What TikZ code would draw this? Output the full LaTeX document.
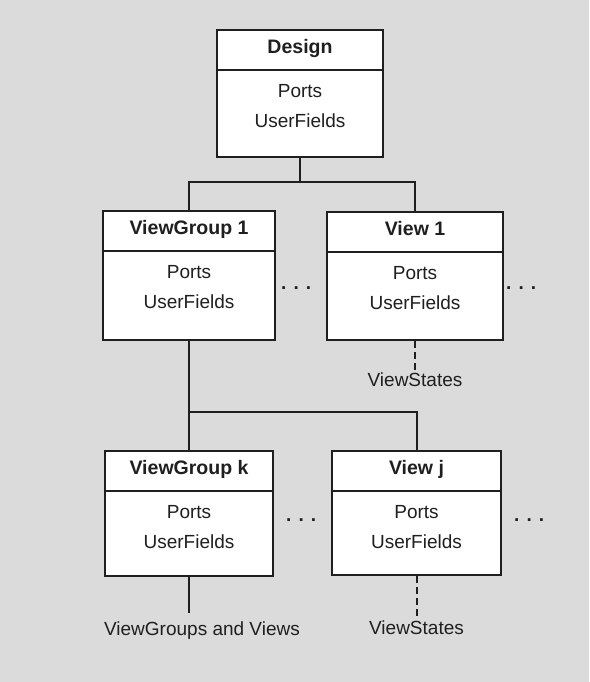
\documentclass[tikz,border=0pt]{standalone}
\usepackage{fontspec}
\setmainfont{Liberation Sans}
\usetikzlibrary{positioning}

\definecolor{paper}{gray}{0.86}
\definecolor{ink}{gray}{0.12}

\tikzset{
  objframe/.style={draw=ink, fill=white, line width=2.4pt, inner sep=0pt},
  objrule/.style={draw=ink, line width=2pt},
  objtitle/.style={font=\fontsize{19.5}{23}\selectfont\bfseries, text=ink, inner sep=0pt, anchor=base},
  objfield/.style={font=\fontsize{19}{23}\selectfont, text=ink, inner sep=0pt, anchor=base},
  link/.style={draw=ink, line width=2pt},
  statelink/.style={link, dash pattern=on 7pt off 4pt},
  leaf/.style={font=\fontsize{19}{23}\selectfont, text=ink, inner sep=3pt},
  more/.style={font=\fontsize{19}{23}\selectfont\bfseries, text=ink, inner sep=0pt, anchor=base west},
}

% name, centre, width, height, title
\newcommand{\objbox}[5]{
  % Frame
  \node[objframe, minimum width=#3, minimum height=#4] (#1) at #2 {};
  % Header rule
  \draw[objrule] ([yshift=-41pt]#1.north west) -- ([yshift=-41pt]#1.north east);
  % Name and fields
  \node[objtitle] (#1-name) at ([yshift=-25pt]#1.north) {#5};
  \node[objfield] (#1-ports) at ([yshift=-69pt]#1.north) {Ports};
  \node[objfield] (#1-fields) at ([yshift=-99pt]#1.north) {UserFields};
}

\begin{document}
\begin{tikzpicture}[x=1pt, y=-1pt]
    \fill[paper] (0, 0) rectangle (589, 682);
    \useasboundingbox (0, 0) rectangle (589, 682);

    % Boxes
    \objbox{design}{(300, 93.5)}{166pt}{127pt}{Design}
    \objbox{vg1}{(189, 275.5)}{172pt}{129pt}{ViewGroup 1}
    \objbox{v1}{(415, 276)}{176pt}{128pt}{View 1}
    \objbox{vgk}{(189, 513.5)}{168pt}{125pt}{ViewGroup k}
    \objbox{vj}{(416.5, 513)}{169pt}{124pt}{View j}

    % Tree from Design
    \coordinate (top-bus) at (300, 182);
    \draw[link] (design.south) -- (top-bus);
    \draw[link] (vg1.north) |- (top-bus) -| (v1.north);

    % Tree from ViewGroup 1
    \coordinate (low-bus) at (189, 412);
    \draw[link] (vg1.south) -- (vgk.north);
    \draw[link] (low-bus) -| (vj.north);

    % Leaves
    \node[leaf] (v1-states) at (415, 380) {ViewStates};
    \draw[statelink] (v1.south) -- (v1-states.north);
    \node[leaf] (vj-states) at (416.5, 628) {ViewStates};
    \draw[statelink] (vj.south) -- (vj-states.north);
    \node[leaf, inner ysep=9pt] (vgk-kids) at (202, 631) {ViewGroups and Views};
    \draw[link] (vgk.south) -- (vgk.south |- vgk-kids.north);

    % More siblings
    \node[more] (vg1-more) at (281, 289) {. . .};
    \node[more] (v1-more) at (506, 289) {. . .};
    \node[more] (vgk-more) at (286, 521) {. . .};
    \node[more] (vj-more) at (514, 521) {. . .};
  \end{tikzpicture}
\end{document}
